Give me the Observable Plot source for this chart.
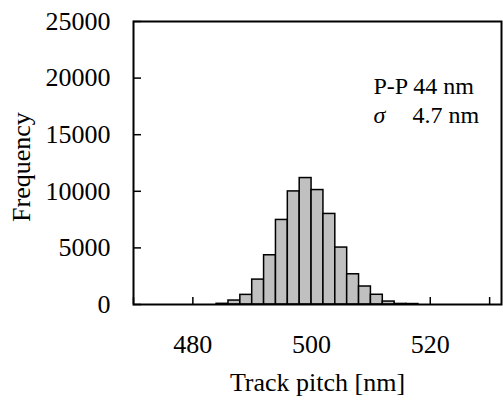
<!DOCTYPE html>
<html>
<head>
<meta charset="utf-8">
<script src="https://cdn.jsdelivr.net/npm/d3@7"></script>
<script src="https://cdn.jsdelivr.net/npm/@observablehq/plot@0.6"></script>
<style>
  html, body { margin: 0; padding: 0; background: #fff; }
  svg text, svg g { font-family: "Liberation Serif", "Times New Roman", serif !important; font-variant: normal !important; }
</style>
</head>
<body>
<div id="chart"></div>
<script>
// Histogram bins (nm): start of each 2 nm bin
const binStart = [484, 486, 488, 490, 492, 494, 496, 498, 500, 502, 504, 506, 508, 510, 512, 514, 516];
const binWidth = 2;
const counts   = [60, 350, 850, 2200, 4350, 7470, 9990, 11170, 10110, 8000, 5030, 2670, 1590, 860, 260, 50, 40];

const xTicks = [470, 480, 490, 500, 510, 520, 530];
const xTickLabels = [480, 500, 520];
const yTicks = [0, 5000, 10000, 15000, 20000, 25000];

const xLabel = "Track pitch [nm]";
const yLabel = "Frequency";
const noteLine1 = "P-P 44 nm";
const noteSigma = "σ";
const noteLine2 = "4.7 nm";

const bins = binStart.map((s, i) => ({x1: s, x2: s + binWidth, count: counts[i]}));

const font = "'Liberation Serif', 'Times New Roman', serif";

const chart = Plot.plot({
  width: 503,
  height: 405,
  marginLeft: 133,
  marginRight: 2,
  marginTop: 21,
  marginBottom: 101,
  style: {fontFamily: font, fontSize: "26px", color: "black", background: "white"},
  x: {domain: [470, 532]},
  y: {domain: [0, 25000]},
  marks: [
    Plot.axisX(xTicks, {
      anchor: "bottom", tickSize: -7, tickPadding: 37, fontSize: 26, fontFamily: font, fontVariant: "normal",
      tickFormat: d => xTickLabels.includes(d) ? String(d) : "",
      label: null, strokeWidth: 1.5
    }),
    Plot.axisY(yTicks, {
      anchor: "left", tickSize: -8, tickPadding: 31, fontSize: 26, fontFamily: font, fontVariant: "normal",
      tickFormat: d => String(d), label: null, strokeWidth: 1.5
    }),
    Plot.rectY(bins, {x1: "x1", x2: "x2", y: "count", fill: "#c0c0c0", stroke: "black", strokeWidth: 1.5}),
    Plot.frame({stroke: "black", strokeWidth: 2}),
    Plot.text([yLabel], {text: d => d, frameAnchor: "left", rotate: -90, dx: -104, dy: 4,
      lineAnchor: "bottom", textAnchor: "middle", fontSize: 26, fontFamily: font}),
    Plot.text([xLabel], {text: d => d, frameAnchor: "bottom", dy: 86,
      lineAnchor: "bottom", textAnchor: "middle", fontSize: 26, fontFamily: font}),
    Plot.text([noteLine1], {text: d => d, frameAnchor: "top-left", dx: 240, dy: 72,
      lineAnchor: "bottom", textAnchor: "start", fontSize: 24, fontFamily: font}),
    Plot.text([noteSigma], {text: d => d, frameAnchor: "top-left", dx: 240, dy: 101,
      lineAnchor: "bottom", textAnchor: "start", fontSize: 24, fontStyle: "italic", fontFamily: font}),
    Plot.text([noteLine2], {text: d => d, frameAnchor: "top-left", dx: 279, dy: 101,
      lineAnchor: "bottom", textAnchor: "start", fontSize: 24, fontFamily: font})
  ]
});

document.getElementById("chart").appendChild(chart);
</script>
</body>
</html>
